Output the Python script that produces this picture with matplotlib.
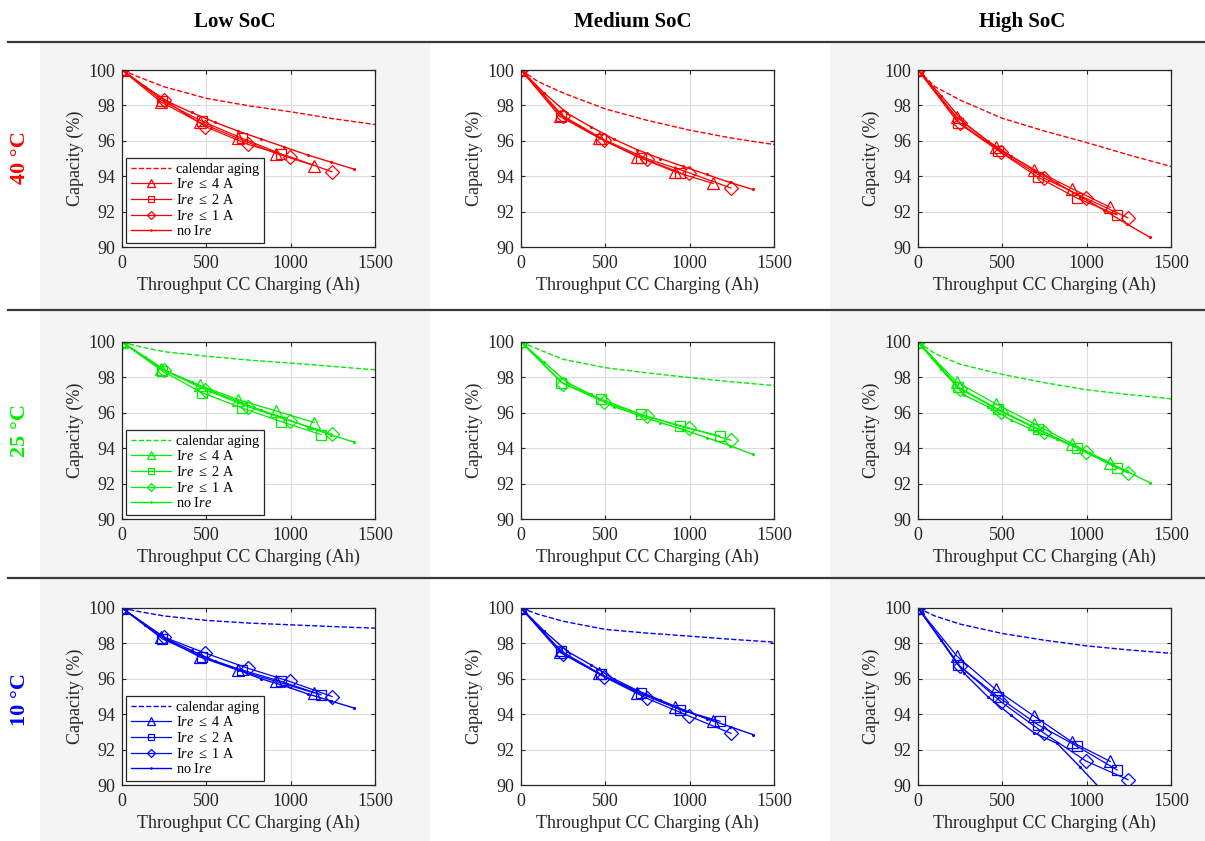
import numpy as np
import matplotlib
matplotlib.use('Agg')
import matplotlib.pyplot as plt
from matplotlib.patches import Rectangle

plt.rcParams['font.family'] = ['Liberation Serif', 'DejaVu Serif']
plt.rcParams['mathtext.fontset'] = 'custom'
plt.rcParams['mathtext.rm'] = 'Liberation Serif'
plt.rcParams['mathtext.it'] = 'Liberation Serif:italic'

# ---- data -------------------------------------------------------------
soc_labels = ['Low SoC', 'Medium SoC', 'High SoC']
temp_labels = ['40 °C', '25 °C', '10 °C']
temp_colors = ['#ff0000', '#00ee00', '#0000ff']

cal_x = [0, 100, 250, 500, 750, 1000, 1250, 1500]
x_tri = [0, 230, 460, 690, 915, 1140]
x_sq = [0, 240, 475, 710, 945, 1180]
x_dia = [0, 250, 495, 745, 995, 1245]
x_noire = [0, 137.5, 275, 412.5, 550, 687.5, 825, 962.5, 1100, 1237.5, 1375]

# calendar aging, [row][col]
cal_y = [
    [[100, 99.6, 99.05, 98.4, 97.98, 97.64, 97.25, 96.92],
     [100, 99.35, 98.7, 97.8, 97.15, 96.6, 96.15, 95.79],
     [100, 99.06, 98.3, 97.27, 96.55, 95.9, 95.2, 94.55]],
    [[100, 99.75, 99.45, 99.2, 98.98, 98.81, 98.62, 98.43],
     [100, 99.6, 99.02, 98.55, 98.25, 97.99, 97.75, 97.54],
     [100, 99.35, 98.74, 98.17, 97.7, 97.3, 97.03, 96.79]],
    [[100, 99.8, 99.55, 99.3, 99.15, 99.05, 98.95, 98.86],
     [100, 99.65, 99.25, 98.79, 98.58, 98.41, 98.23, 98.07],
     [100, 99.55, 99.09, 98.56, 98.18, 97.86, 97.63, 97.44]],
]

ire4_y = [
    [[100, 98.2, 97.04, 96.13, 95.28, 94.6],
     [100, 97.38, 96.17, 95.1, 94.24, 93.59],
     [100, 97.33, 95.64, 94.36, 93.29, 92.24]],
    [[100, 98.49, 97.55, 96.74, 96.1, 95.45],
     [],
     [100, 97.74, 96.51, 95.38, 94.25, 93.15]],
    [[100, 98.38, 97.24, 96.48, 95.85, 95.2],
     [100, 97.5, 96.3, 95.22, 94.38, 93.62],
     [100, 97.29, 95.4, 93.88, 92.42, 91.33]],
]

ire2_y = [
    [[100, 98.25, 97.1, 96.15, 95.25],
     [100, 97.4, 96.1, 95.05, 94.2],
     [100, 97.0, 95.45, 93.95, 92.75, 91.82]],
    [[100, 98.35, 97.13, 96.28, 95.5, 94.77],
     [100, 97.71, 96.77, 95.92, 95.23, 94.7],
     [100, 97.45, 96.2, 95.1, 94.0, 92.89]],
    [[100, 98.25, 97.25, 96.5, 95.85, 95.1],
     [100, 97.55, 96.25, 95.2, 94.25, 93.6],
     [100, 96.76, 94.98, 93.41, 92.18, 90.85]],
]

ire1_y = [
    [[100, 98.3, 96.8, 95.8, 95.1, 94.25],
     [100, 97.4, 96.05, 95.0, 94.2, 93.33],
     [100, 97.0, 95.35, 93.9, 92.75, 91.65]],
    [[100, 98.4, 97.3, 96.35, 95.55, 94.8],
     [100, 97.65, 96.6, 95.8, 95.15, 94.45],
     [100, 97.35, 96.05, 94.9, 93.8, 92.6]],
    [[100, 98.35, 97.45, 96.6, 95.85, 95.0],
     [100, 97.4, 96.1, 94.9, 93.9, 92.92],
     [100, 96.7, 94.68, 92.94, 91.36, 90.3]],
]

noire_y = [
    [[100, 99.05, 98.2, 97.6, 97.05, 96.55, 96.1, 95.65, 95.2, 94.8, 94.4],
     [100, 98.7, 97.55, 96.8, 96.1, 95.5, 95.0, 94.55, 94.1, 93.65, 93.25],
     [100, 98.55, 97.0, 96.0, 95.15, 94.35, 93.6, 92.85, 92.1, 91.3, 90.55]],
    [[100, 99.15, 98.3, 97.75, 97.15, 96.65, 96.15, 95.7, 95.2, 94.75, 94.35],
     [100, 98.85, 97.7, 97.05, 96.35, 95.9, 95.45, 95.05, 94.6, 94.15, 93.65],
     [100, 98.45, 97.0, 96.35, 95.6, 95.0, 94.5, 93.95, 93.35, 92.7, 92.05]],
    [[100, 99.05, 98.2, 97.6, 97.0, 96.5, 96.0, 95.6, 95.15, 94.75, 94.35],
     [100, 98.7, 97.55, 96.8, 96.0, 95.35, 94.8, 94.25, 93.75, 93.3, 92.85],
     [100, 98.2, 96.3, 95.0, 93.95, 92.95, 92.35, 91.0, 89.6, 88.3, 87.0]],
]

legend_labels = ['calendar aging', r'I$\mathit{re}$ $\leq$ 4 A',
                 r'I$\mathit{re}$ $\leq$ 2 A', r'I$\mathit{re}$ $\leq$ 1 A',
                 r'no I$\mathit{re}$']

# ---- figure -----------------------------------------------------------
W, H = 1205, 841
fig = plt.figure(figsize=(W / 100, H / 100), dpi=100)

# background layer: gray columns and separators
bg = fig.add_axes([0, 0, 1, 1], zorder=-10)
bg.set_xlim(0, W)
bg.set_ylim(H, 0)
bg.axis('off')
for x0, x1 in [(40, 430), (830, 1205)]:
    bg.add_patch(Rectangle((x0, 42), x1 - x0, H - 42,
                           facecolor='#f4f4f4', edgecolor='none'))
for yl in [42, 310, 578]:
    bg.plot([8, W], [yl, yl], color='#3a3a3a', lw=1.6)

for c, (lab, xc) in enumerate(zip(soc_labels, [235, 633, 1022])):
    fig.text(xc / W, 1 - 22 / H, lab, ha='center', va='center',
             fontsize=15, fontweight='bold')
for r, (lab, yc) in enumerate(zip(temp_labels, [158, 430, 700])):
    fig.text(20 / W, 1 - yc / H, lab, ha='center', va='center', rotation=90,
             fontsize=16, fontweight='bold', color=temp_colors[r])

col_left = [122, 521, 918]
row_top = [70, 342, 608]
aw, ah = 253, 177
dark = '#262626'

for r in range(3):
    col = temp_colors[r]
    for c in range(3):
        ax = fig.add_axes([col_left[c] / W, 1 - (row_top[r] + ah) / H, aw / W, ah / H])
        ax.set_facecolor('white')
        ax.plot(cal_x, cal_y[r][c], '--', color=col, lw=1.0, label=legend_labels[0])
        y4 = ire4_y[r][c]
        ax.plot(x_tri[:len(y4)], y4, '-^', color=col, lw=0.9, ms=8,
                mfc='none', mew=0.9, label=legend_labels[1])
        y2 = ire2_y[r][c]
        ax.plot(x_sq[:len(y2)], y2, '-s', color=col, lw=0.9, ms=7,
                mfc='none', mew=0.9, label=legend_labels[2])
        y1 = ire1_y[r][c]
        ax.plot(x_dia[:len(y1)], y1, '-D', color=col, lw=0.9, ms=7,
                mfc='none', mew=0.9, label=legend_labels[3])
        ax.plot(x_noire, noire_y[r][c], '-', marker='.', color=col, lw=1.0,
                ms=2.5, label=legend_labels[4])

        ax.set_xlim(0, 1500)
        ax.set_ylim(90, 100)
        ax.set_xticks([0, 500, 1000, 1500])
        ax.set_yticks([90, 92, 94, 96, 98, 100])
        ax.grid(True, color='#dddddd', lw=0.8)
        ax.set_axisbelow(True)
        ax.tick_params(direction='in', length=3, width=0.8, colors=dark,
                       labelsize=13, labelcolor=dark, top=True, right=True,
                       labeltop=False, labelright=False)
        ax.tick_params(axis='x', pad=6)
        ax.tick_params(axis='y', pad=5)
        for s in ax.spines.values():
            s.set_color(dark)
            s.set_linewidth(0.9)
        ax.set_xlabel('Throughput CC Charging (Ah)', fontsize=13, color=dark, labelpad=3)
        ax.set_ylabel('Capacity (%)', fontsize=13, color=dark, labelpad=3)

        if c == 0:
            leg = ax.legend(loc='lower left', fontsize=10.3, frameon=True,
                            fancybox=False, edgecolor=dark, framealpha=1,
                            handlelength=2.8, borderaxespad=0.3,
                            labelspacing=0.12, borderpad=0.3,
                            handletextpad=0.4, markerscale=0.65)
            leg.get_frame().set_linewidth(0.9)

fig.savefig('out.png', dpi=100)
